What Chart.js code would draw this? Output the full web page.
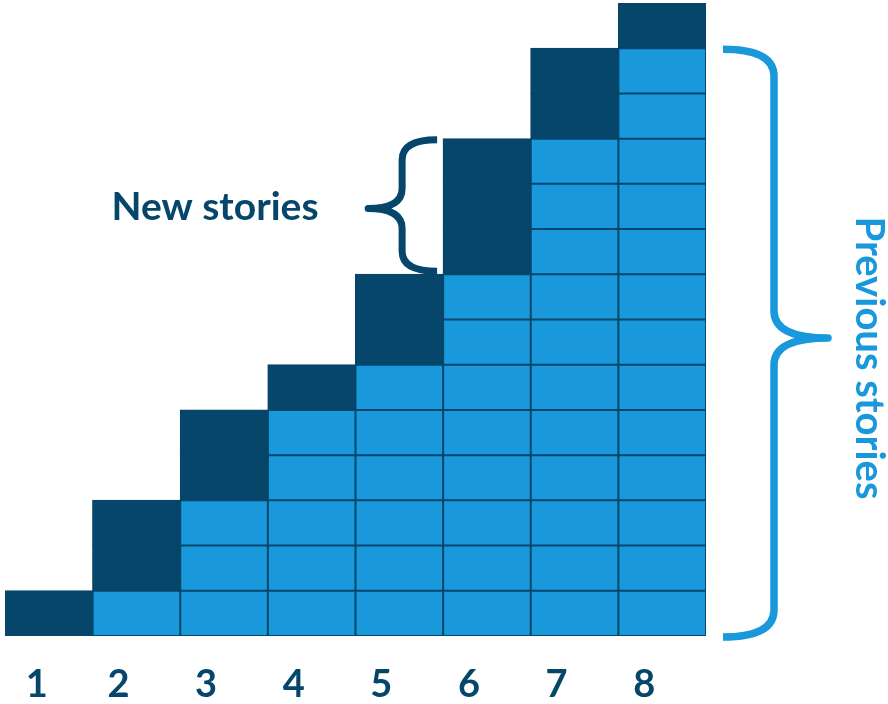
<!DOCTYPE html>
<html>
<head>
<meta charset="utf-8">
<script src="https://cdn.jsdelivr.net/npm/chart.js@4/dist/chart.umd.min.js"></script>
<style>
  body { margin: 0; background: #fff; }
  #wrap { width: 888px; height: 704px; }
</style>
</head>
<body>
<div id="wrap"><canvas id="chart"></canvas></div>
<script>
// story counts per release
const columns = ['1', '2', '3', '4', '5', '6', '7', '8'];
const previousStories = [0, 1, 3, 5, 6, 8, 11, 13];
const newStories = [1, 2, 2, 1, 2, 3, 2, 1];
const maxStories = 14;

const darkBlue = '#05466a';
const lightBlue = '#1a98dc';

const totals = previousStories.map((p, i) => p + newStories[i]);

// one stacked dataset per row of cells
const datasets = [];
for (let k = 0; k < maxStories; k++) {
  datasets.push({
    label: 'row ' + (k + 1),
    data: totals.map(t => (k < t ? 1 : null)),
    backgroundColor: previousStories.map(p => (k < p ? lightBlue : darkBlue)),
    borderColor: darkBlue,
    borderWidth: 1.5,
    borderSkipped: false,
    inflateAmount: 0.5,
    categoryPercentage: 1,
    barPercentage: 1
  });
}

function drawBrace(ctx, xEnd, xLine, xTip, yTop, yBot, yMid, r) {
  ctx.beginPath();
  ctx.moveTo(xEnd, yTop);
  ctx.quadraticCurveTo(xLine, yTop, xLine, yTop + r);
  ctx.lineTo(xLine, yMid - r);
  ctx.quadraticCurveTo(xLine, yMid, xTip, yMid);
  ctx.quadraticCurveTo(xLine, yMid, xLine, yMid + r);
  ctx.lineTo(xLine, yBot - r);
  ctx.quadraticCurveTo(xLine, yBot, xEnd, yBot);
  ctx.stroke();
}

const annotations = {
  id: 'annotations',
  afterDraw(chart) {
    const ctx = chart.ctx;
    const x = chart.scales.x;
    const y = chart.scales.y;
    const half = x.width / columns.length / 2;

    ctx.save();
    ctx.lineCap = 'butt';
    ctx.lineJoin = 'round';

    // brace for the new stories of column 6
    const c6 = 5;
    const left6 = x.getPixelForValue(c6) - half;
    const top6 = y.getPixelForValue(totals[c6]);
    const bot6 = y.getPixelForValue(previousStories[c6]);
    ctx.strokeStyle = darkBlue;
    ctx.lineWidth = 7;
    drawBrace(ctx, left6 - 6, left6 - 41, left6 - 75, top6 + 1, bot6 - 3, (top6 + bot6) / 2 + 2, 20);

    ctx.fillStyle = darkBlue;
    ctx.font = 'bold 39px Lato';
    ctx.textAlign = 'center';
    ctx.textBaseline = 'alphabetic';
    ctx.fillText('New stories', 215, 220);

    // brace for the previous stories of the last column
    const c8 = columns.length - 1;
    const right8 = x.getPixelForValue(c8) + half;
    const top8 = y.getPixelForValue(previousStories[c8]);
    const bot8 = y.getPixelForValue(0);
    ctx.strokeStyle = lightBlue;
    ctx.lineWidth = 7.5;
    drawBrace(ctx, right8 + 17, right8 + 68, right8 + 122, top8 + 1, bot8 + 1, (top8 + bot8) / 2 - 4, 27);

    ctx.fillStyle = lightBlue;
    ctx.font = 'bold 40px Lato';
    ctx.translate(856, 358);
    ctx.rotate(Math.PI / 2);
    ctx.textAlign = 'center';
    ctx.fillText('Previous stories', 0, 0);
    ctx.restore();

    // column numbers
    ctx.save();
    ctx.fillStyle = darkBlue;
    ctx.font = 'bold 38px Lato';
    ctx.textAlign = 'center';
    ctx.textBaseline = 'alphabetic';
    columns.forEach((c, i) => {
      ctx.fillText(c, x.getPixelForValue(i) - (i === 0 ? 12 : 18), 697);
    });
    ctx.restore();
  }
};

new Chart(document.getElementById('chart').getContext('2d'), {
  type: 'bar',
  data: { labels: columns, datasets: datasets },
  options: {
    responsive: true,
    maintainAspectRatio: false,
    animation: false,
    layout: { padding: { left: 5, top: 3, right: 182, bottom: 68 } },
    plugins: { legend: { display: false }, tooltip: { enabled: false } },
    scales: {
      x: { stacked: true, display: false },
      y: { stacked: true, display: false, min: 0, max: maxStories }
    }
  },
  plugins: [annotations]
});
</script>
</body>
</html>
